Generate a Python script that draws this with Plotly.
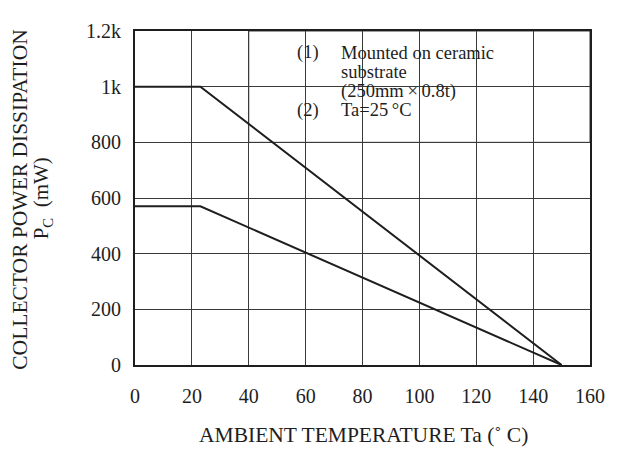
import plotly.graph_objects as go

# Data
ta_ceramic = [0, 23, 150]
pc_ceramic = [1000, 1000, 0]
ta_free = [0, 23, 150]
pc_free = [570, 570, 0]

x_ticks = [0, 20, 40, 60, 80, 100, 120, 140, 160]
y_ticks = [0, 200, 400, 600, 800, 1000, 1200]
y_tick_text = ["0", "200", "400", "600", "800", "1k", "1.2k"]

legend_lines = [
    ("(1)", "Mounted on ceramic"),
    ("", "substrate"),
    ("", "(250mm\u2009\u00d7\u20090.8t)"),
    ("(2)", "Ta=25\u2009\u00b0C"),
]

FONT = "Liberation Serif, Times New Roman, serif"
INK = "#1e1e1e"
GRID = "#3a3a3a"

fig = go.Figure()
fig.add_trace(go.Scatter(x=ta_ceramic, y=pc_ceramic, mode="lines",
                         line=dict(color=INK, width=2), showlegend=False, hoverinfo="skip"))
fig.add_trace(go.Scatter(x=ta_free, y=pc_free, mode="lines",
                         line=dict(color=INK, width=2), showlegend=False, hoverinfo="skip"))

# white note box that hides the grid in the upper right
fig.add_shape(type="rect", xref="x", yref="y", x0=40, x1=160, y0=800, y1=1200,
              fillcolor="white", line=dict(color=GRID, width=1), layer="below")

# page has an 8px body margin, so the figure is shifted by 8px
OFF = 8
W, H = 617 - OFF, 450 - OFF
L, R, T, B = 135 - OFF, 18, 24 - OFF, 85
pw, ph = W - L - R, H - T - B

def px_to_paper(xp, yp):
    xp -= OFF
    yp -= OFF
    return (xp - L) / pw, (H - B - yp) / ph

line_y = [46, 66, 85.5, 105]
for (num, txt), yp in zip(legend_lines, line_y):
    if num:
        xx, yy = px_to_paper(298, yp)
        fig.add_annotation(x=xx, y=yy, xref="paper", yref="paper", text=num,
                           showarrow=False, xanchor="left", yanchor="middle",
                           font=dict(family=FONT, size=18.5, color=INK))
    xx, yy = px_to_paper(343, yp)
    fig.add_annotation(x=xx, y=yy, xref="paper", yref="paper", text=txt,
                       showarrow=False, xanchor="left", yanchor="middle",
                       font=dict(family=FONT, size=18.5, color=INK))

# y axis title (two lines)
xx, yy = px_to_paper(18, 196)
fig.add_annotation(x=xx, y=yy, xref="paper", yref="paper",
                   text="COLLECTOR POWER DISSIPATION", textangle=-90,
                   showarrow=False, xanchor="center", yanchor="middle",
                   font=dict(family=FONT, size=21.5, color=INK))
xx, yy = px_to_paper(41, 195)
fig.add_annotation(x=xx, y=yy, xref="paper", yref="paper",
                   text="P<sub>C</sub>  (mW)", textangle=-90,
                   showarrow=False, xanchor="center", yanchor="middle",
                   font=dict(family=FONT, size=21, color=INK))

# x axis title
xx, yy = px_to_paper(368, 436)
fig.add_annotation(x=xx, y=yy, xref="paper", yref="paper",
                   text="AMBIENT TEMPERATURE Ta (\u02da C)",
                   showarrow=False, xanchor="center", yanchor="middle",
                   font=dict(family=FONT, size=21.5, color=INK))

fig.update_layout(
    width=W, height=H,
    margin=dict(l=L, r=R, t=T, b=B),
    paper_bgcolor="white", plot_bgcolor="white",
    font=dict(family=FONT, size=20, color=INK),
    xaxis=dict(range=[0, 160], tickvals=x_ticks, showgrid=True, gridcolor=GRID, gridwidth=1,
               showline=True, linecolor=INK, linewidth=2, mirror=True, ticks="",
               zeroline=False, ticklabelstandoff=12, fixedrange=True),
    yaxis=dict(range=[0, 1200], tickvals=y_ticks, ticktext=y_tick_text, showgrid=True,
               gridcolor=GRID, gridwidth=1, showline=True, linecolor=INK, linewidth=2,
               mirror=True, ticks="", zeroline=False, ticklabelstandoff=8, fixedrange=True),
)

fig.write_html("out.html")
